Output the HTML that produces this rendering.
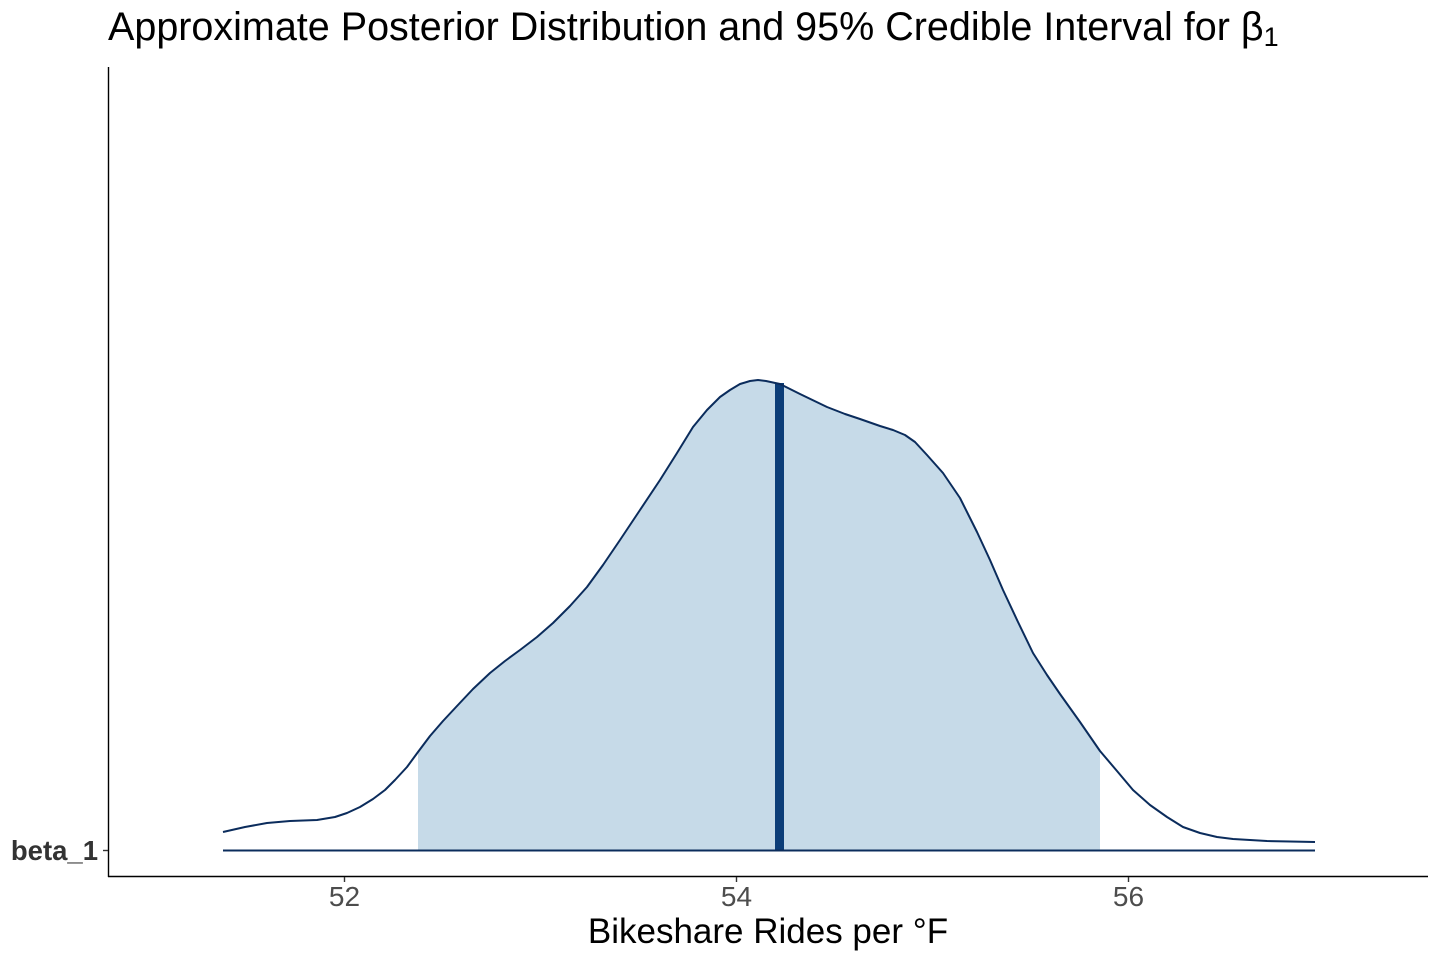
<!DOCTYPE html>
<html>
<head>
<meta charset="utf-8">
<style>
  html, body { margin:0; padding:0; background:#fff; }
  svg { display:block; }
  text { font-family: "Liberation Sans", "DejaVu Sans", sans-serif; }
</style>
</head>
<body>
<svg width="1440" height="960" viewBox="0 0 1440 960" xmlns="http://www.w3.org/2000/svg">
  <rect width="1440" height="960" fill="#fff"/>
  <defs>
    <clipPath id="ci">
      <rect x="418" y="300" width="682" height="560"/>
    </clipPath>
  </defs>

  <!-- title -->
  <text x="108" y="40" font-size="39.5" fill="#000">Approximate Posterior Distribution and 95% Credible Interval for β<tspan font-size="27" dy="6">1</tspan></text>

  <!-- shaded credible interval -->
  <polygon clip-path="url(#ci)" fill="#c6dae8" points="223,850 223,832 245,827 267,823 290,821 317,820 335,817 347,813 360,807 373,799 385,790 395,780 407,767 418,752 430,736 443,721 457,706 473,689 490,673 505,661 520,650 537,637 553,623 570,606 587,587 603,565 620,540 640,510 660,480 677,453 693,427 707,410 720,397 730,390 740,384 750,381 758,380 766,381 780,384 800,394 827,407 845,414 860,419 880,426 893,430 905,435 915,442 927,455 943,473 960,498 977,532 990,560 1003,590 1018,622 1033,653 1047,675 1060,694 1080,722 1100,751 1117,771 1133,790 1150,805 1167,817 1183,827 1200,833 1217,837 1233,839 1250,840 1267,841 1290,841.5 1315,842 1315,850"/>

  <!-- median line -->
  <rect x="775" y="383" width="9" height="467" fill="#0c3d78"/>

  <!-- density curve -->
  <polyline fill="none" stroke="#0b2c5c" stroke-width="2" stroke-linejoin="round" points="223,832 245,827 267,823 290,821 317,820 335,817 347,813 360,807 373,799 385,790 395,780 407,767 418,752 430,736 443,721 457,706 473,689 490,673 505,661 520,650 537,637 553,623 570,606 587,587 603,565 620,540 640,510 660,480 677,453 693,427 707,410 720,397 730,390 740,384 750,381 758,380 766,381 780,384 800,394 827,407 845,414 860,419 880,426 893,430 905,435 915,442 927,455 943,473 960,498 977,532 990,560 1003,590 1018,622 1033,653 1047,675 1060,694 1080,722 1100,751 1117,771 1133,790 1150,805 1167,817 1183,827 1200,833 1217,837 1233,839 1250,840 1267,841 1290,841.5 1315,842"/>

  <!-- baseline -->
  <line x1="223" y1="850.5" x2="1315" y2="850.5" stroke="#0b2c5c" stroke-width="2"/>

  <!-- axes -->
  <line x1="108.5" y1="67" x2="108.5" y2="877" stroke="#000" stroke-width="1.4"/>
  <line x1="108" y1="876.5" x2="1428" y2="876.5" stroke="#000" stroke-width="1.4"/>

  <!-- y tick -->
  <line x1="103" y1="850.5" x2="108" y2="850.5" stroke="#333" stroke-width="1.4"/>
  <text x="98" y="860" font-size="27.5" font-weight="bold" fill="#333" text-anchor="end">beta_1</text>

  <!-- x ticks -->
  <line x1="344.5" y1="877" x2="344.5" y2="882" stroke="#333" stroke-width="1.4"/>
  <line x1="736.5" y1="877" x2="736.5" y2="882" stroke="#333" stroke-width="1.4"/>
  <line x1="1128.5" y1="877" x2="1128.5" y2="882" stroke="#333" stroke-width="1.4"/>
  <text x="344.5" y="906" font-size="28" fill="#4d4d4d" text-anchor="middle">52</text>
  <text x="736.5" y="906" font-size="28" fill="#4d4d4d" text-anchor="middle">54</text>
  <text x="1128.5" y="906" font-size="28" fill="#4d4d4d" text-anchor="middle">56</text>

  <!-- x axis title -->
  <text x="768" y="943" font-size="35" fill="#000" text-anchor="middle">Bikeshare Rides per °F</text>
</svg>
</body>
</html>
